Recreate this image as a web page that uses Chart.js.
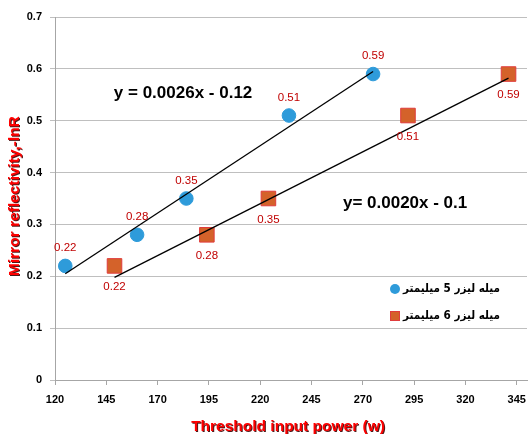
<!DOCTYPE html>
<html>
<head>
<meta charset="utf-8">
<script src="https://cdn.jsdelivr.net/npm/chart.js@4/dist/chart.umd.min.js"></script>
<style>
  html, body { margin: 0; padding: 0; background: #fff; }
  #wrap { width: 528px; height: 434px; position: relative; }
</style>
</head>
<body>
<div id="wrap"><canvas id="grafico"></canvas></div>
<script>
// datos
const serieNombres = ['میله لیزر 5 میلیمتر', 'میله لیزر 6 میلیمتر'];
const potencia5 = [125, 160, 184, 234, 275];
const reflect5 = [0.22, 0.28, 0.35, 0.51, 0.59];
const potencia6 = [149, 194, 224, 292, 341];
const reflect6 = [0.22, 0.28, 0.35, 0.51, 0.59];
// lineas de tendencia (ecuaciones escritas en el grafico)
const pendientes = [0.0026, 0.0020];
const ordenadas = [-0.12, -0.1];
const ecuaciones = ['y = 0.0026x - 0.12', 'y= 0.0020x - 0.1'];
const xTicks = [120, 145, 170, 195, 220, 245, 270, 295, 320, 345];
const yTicks = [0, 0.1, 0.2, 0.3, 0.4, 0.5, 0.6, 0.7];

const azul = '#2E9BDA';
const naranja = '#D4622A';

// los marcadores grandes no deben encoger el area del grafico
Chart.ScatterController.prototype.getMaxOverflow = function () { return 0; };
Chart.LineController.prototype.getMaxOverflow = function () { return 0; };

function puntos(xs, ys) {
    return xs.map((x, i) => ({ x: x, y: ys[i] }));
}
function tendencia(xs, i) {
    const a = Math.min(...xs), b = Math.max(...xs);
    return [{ x: a, y: pendientes[i] * a + ordenadas[i] }, { x: b, y: pendientes[i] * b + ordenadas[i] }];
}

// etiquetas, ecuaciones, leyenda y titulos de ejes
const extras = {
    id: 'extras',
    afterDraw(chart) {
        const ctx = chart.ctx;
        const xs = chart.scales.x, ys = chart.scales.y;
        ctx.save();
        // etiquetas de datos
        ctx.font = '11.5px "Liberation Sans", Arial, sans-serif';
        ctx.textAlign = 'center';
        ctx.textBaseline = 'middle';
        ctx.fillStyle = '#C00000';
        [[0, -18], [1, 21]].forEach(([di, dy]) => {
            const meta = chart.getDatasetMeta(di);
            meta.data.forEach((p, i) => {
                const v = chart.data.datasets[di].data[i].y;
                ctx.fillText(v.toFixed(2), p.x, p.y + dy);
            });
        });
        // ecuaciones
        ctx.fillStyle = '#000';
        ctx.font = 'bold 17px "Liberation Sans", Arial, sans-serif';
        ctx.fillText(ecuaciones[0], xs.getPixelForValue(182.4), ys.getPixelForValue(0.553));
        ctx.fillText(ecuaciones[1], xs.getPixelForValue(290.6), ys.getPixelForValue(0.341));
        // leyenda
        [289, 316].forEach((y, i) => {
            if (i === 0) {
                ctx.fillStyle = azul;
                ctx.beginPath();
                ctx.arc(395, y, 5, 0, Math.PI * 2);
                ctx.fill();
            } else {
                ctx.fillStyle = naranja;
                ctx.strokeStyle = '#E03C3C';
                ctx.fillRect(390, y - 5, 10, 10);
                ctx.strokeRect(390.5, y - 4.5, 9, 9);
            }
            ctx.save();
            ctx.fillStyle = '#000';
            ctx.font = 'bold 11.5px "DejaVu Sans", sans-serif';
            ctx.direction = 'rtl';
            ctx.textAlign = 'right';
            const w = ctx.measureText(serieNombres[i]).width;
            const k = Math.min(1, 97 / w);
            ctx.translate(500, y);
            ctx.scale(k, 1);
            ctx.fillText(serieNombres[i], 0, 0);
            ctx.restore();
        });
        // titulos de ejes
        ctx.textAlign = 'center';
        ctx.font = 'bold 15.5px "Liberation Sans", Arial, sans-serif';
        ctx.shadowColor = 'rgba(60,0,0,0.9)';
        ctx.shadowOffsetX = 1;
        ctx.shadowOffsetY = 1;
        ctx.fillStyle = '#FF0000';
        ctx.fillText('Threshold input power (w)', 288, 427);
        ctx.translate(15, 196);
        ctx.rotate(-Math.PI / 2);
        ctx.fillText('Mirror reflectivity,-lnR', 0, 0);
        ctx.restore();
    }
};

const config = {
    type: 'scatter',
    data: {
        datasets: [{
            label: serieNombres[0],
            data: puntos(potencia5, reflect5),
            pointStyle: 'circle',
            pointRadius: 6.8,
            backgroundColor: azul,
            borderColor: azul,
            order: 1
        }, {
            label: serieNombres[1],
            data: puntos(potencia6, reflect6),
            pointStyle: 'rect',
            pointRadius: 10.3,
            backgroundColor: naranja,
            borderColor: '#E03C3C',
            borderWidth: 1,
            order: 1
        }, {
            type: 'line',
            data: tendencia(potencia5, 0),
            borderColor: '#000',
            borderWidth: 1.3,
            pointRadius: 0,
            order: 0
        }, {
            type: 'line',
            data: tendencia(potencia6, 1),
            borderColor: '#000',
            borderWidth: 1.3,
            pointRadius: 0,
            order: 0
        }]
    },
    options: {
        responsive: true,
        maintainAspectRatio: false,
        animation: false,
        layout: { padding: { top: 17, right: 1, left: 0, bottom: 0 } },
        plugins: { legend: { display: false }, tooltip: { enabled: false } },
        scales: {
            x: {
                type: 'linear',
                min: 120,
                max: 350,
                afterBuildTicks: s => { s.ticks = xTicks.map(v => ({ value: v })); },
                afterFit: s => { s.height = 54; s.paddingRight = 0; s.paddingLeft = 0; },
                border: { color: '#A6A6A6' },
                grid: { drawOnChartArea: false, tickLength: 5, color: '#A6A6A6' },
                ticks: {
                    padding: 8,
                    maxRotation: 0,
                    color: '#000',
                    font: { family: '"Liberation Sans", Arial, sans-serif', size: 11, weight: 'bold' }
                }
            },
            y: {
                min: 0,
                max: 0.7,
                afterBuildTicks: s => { s.ticks = yTicks.map(v => ({ value: v })); },
                afterFit: s => { s.width = 55; s.paddingTop = 0; s.paddingBottom = 0; },
                border: { color: '#A6A6A6' },
                grid: { tickLength: 5, color: '#BFBFBF' },
                ticks: {
                    padding: 8,
                    color: '#000',
                    font: { family: '"Liberation Sans", Arial, sans-serif', size: 11, weight: 'bold' },
                    callback: v => (v === 0 ? '0' : Number(v).toFixed(1))
                }
            }
        }
    },
    plugins: [extras]
};

new Chart(document.getElementById('grafico').getContext('2d'), config);
</script>
</body>
</html>
